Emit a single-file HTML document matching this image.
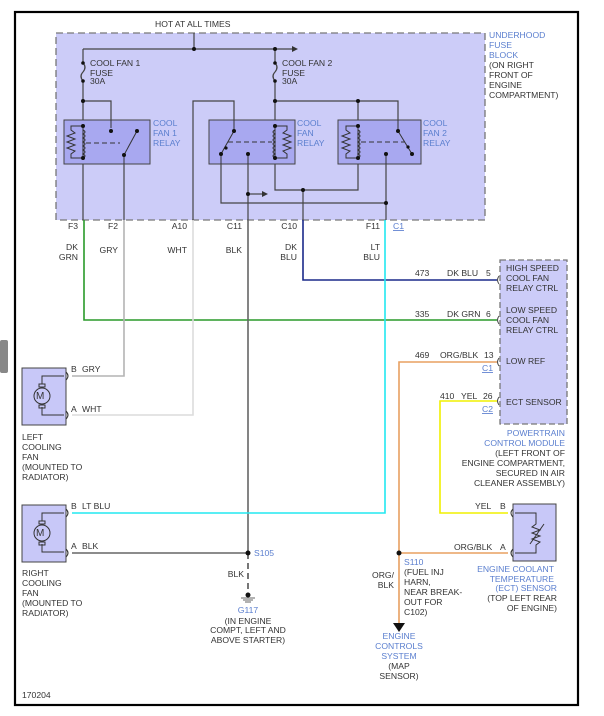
<!DOCTYPE html>
<html><head><meta charset="utf-8"><style>
html,body{margin:0;padding:0;background:#fff;}
svg{display:block;font-family:"Liberation Sans",Arial,sans-serif;font-size:8.6px;}
.d{fill:#333}
.b{fill:#5b7fcf}
</style></head><body>
<svg width="604" height="716" viewBox="0 0 604 716" xmlns="http://www.w3.org/2000/svg">
<rect x="0" y="340" width="8" height="33" rx="2" fill="#888"/>
<rect x="15" y="12" width="563" height="693" fill="none" stroke="#000" stroke-width="2.2"/>

<rect x="56" y="33" width="429" height="187" fill="#ccccf8" stroke="#777" stroke-width="1.3" stroke-dasharray="7,4"/>
<text x="155" y="27" class="d">HOT AT ALL TIMES</text>
<g class="b"><text x="489" y="38">UNDERHOOD</text><text x="489" y="48">FUSE</text><text x="489" y="58">BLOCK</text></g>
<g class="d"><text x="489" y="68">(ON RIGHT</text><text x="489" y="78">FRONT OF</text><text x="489" y="88">ENGINE</text><text x="489" y="98">COMPARTMENT)</text></g>

<g stroke="#444" stroke-width="1.2" fill="none">
<line x1="194" y1="33" x2="194" y2="49"/>
<line x1="83" y1="49" x2="292" y2="49"/>
<line x1="83" y1="49" x2="83" y2="63"/>
<path d="M83 63 q4 4 0 9 q-4 4 0 9"/>
<line x1="83" y1="81" x2="83" y2="120"/>
<line x1="275" y1="49" x2="275" y2="63"/>
<path d="M275 63 q4 4 0 9 q-4 4 0 9"/>
<line x1="275" y1="81" x2="275" y2="120"/>
<polyline points="83,101 111,101 111,120"/>
<polyline points="193,220 193,101 234,101 234,120"/>
<polyline points="275,101 398,101 398,120"/>
<line x1="358" y1="101" x2="358" y2="120"/>
<line x1="83" y1="164" x2="83" y2="220"/>
<line x1="124" y1="164" x2="124" y2="220"/>
<polyline points="221,164 221,203 386,203"/>
<line x1="248" y1="164" x2="248" y2="220"/>
<line x1="248" y1="194" x2="262" y2="194"/>
<polyline points="275,164 275,190 358,190 358,164"/>
<line x1="303" y1="190" x2="303" y2="220"/>
<line x1="386" y1="164" x2="386" y2="220"/>
</g>
<polygon points="292,46 298,49 292,52" fill="#333"/>
<polygon points="262,191 268,194 262,197" fill="#333"/>
<g fill="#111">
<circle cx="194" cy="49" r="2"/><circle cx="275" cy="49" r="2"/>
<circle cx="83" cy="63" r="1.8"/><circle cx="83" cy="81" r="1.8"/>
<circle cx="275" cy="63" r="1.8"/><circle cx="275" cy="81" r="1.8"/>
<circle cx="83" cy="101" r="2"/><circle cx="275" cy="101" r="2"/><circle cx="358" cy="101" r="2"/>
<circle cx="248" cy="194" r="2"/><circle cx="303" cy="190" r="2"/><circle cx="386" cy="203" r="2"/>
</g>
<g class="d"><text x="90" y="66">COOL FAN 1</text><text x="90" y="76">FUSE</text><text x="90" y="84">30A</text>
<text x="282" y="66">COOL FAN 2</text><text x="282" y="76">FUSE</text><text x="282" y="84">30A</text></g>

<g stroke="#444" stroke-width="1" fill="#a8a8f0">
<rect x="64" y="120" width="86" height="44"/>
<rect x="209" y="120" width="86" height="44"/>
<rect x="338" y="120" width="83" height="44"/>
</g>
<g stroke="#333" stroke-width="1" fill="none">
<line x1="83" y1="126" x2="83" y2="158"/>
<path d="M83 130 q4 2 0 4 q4 2 0 4 q4 2 0 4 q4 2 0 4 q4 2 0 4 q4 2 0 4 q4 2 0 4"/>
<polyline points="83,126 71,126 71,130 75,133 67,136 75,139 67,142 75,145 67,148 75,151 71,154 71,158 83,158"/>
<line x1="86" y1="143" x2="120" y2="143" stroke-dasharray="5,3"/>
<line x1="124" y1="155" x2="137" y2="131"/>
<line x1="124" y1="155" x2="124" y2="164"/>
<line x1="111" y1="120" x2="111" y2="128"/>
<line x1="275" y1="126" x2="275" y2="158"/>
<path d="M275 130 q-4 2 0 4 q-4 2 0 4 q-4 2 0 4 q-4 2 0 4 q-4 2 0 4 q-4 2 0 4 q-4 2 0 4"/>
<polyline points="275,126 287,126 287,130 283,133 291,136 283,139 291,142 283,145 291,148 283,151 287,154 287,158 275,158"/>
<line x1="228" y1="142" x2="272" y2="142" stroke-dasharray="5,3"/>
<line x1="221" y1="154" x2="234" y2="131"/>
<line x1="234" y1="120" x2="234" y2="131"/>
<line x1="221" y1="154" x2="221" y2="164"/>
<line x1="248" y1="154" x2="248" y2="164"/>
<line x1="358" y1="126" x2="358" y2="158"/>
<path d="M358 130 q4 2 0 4 q4 2 0 4 q4 2 0 4 q4 2 0 4 q4 2 0 4 q4 2 0 4 q4 2 0 4"/>
<polyline points="358,126 346,126 346,130 350,133 342,136 350,139 342,142 350,145 342,148 350,151 346,154 346,158 358,158"/>
<line x1="361" y1="142" x2="405" y2="142" stroke-dasharray="5,3"/>
<line x1="398" y1="120" x2="398" y2="131"/>
<line x1="398" y1="131" x2="412" y2="154"/>
<line x1="386" y1="154" x2="386" y2="164"/>
</g>
<g fill="#111">
<circle cx="83" cy="126" r="2"/><circle cx="83" cy="158" r="2"/><circle cx="111" cy="131" r="2"/><circle cx="124" cy="155" r="2"/><circle cx="137" cy="131" r="2"/>
<circle cx="275" cy="126" r="2"/><circle cx="275" cy="158" r="2"/><circle cx="234" cy="131" r="2"/><circle cx="221" cy="154" r="2"/><circle cx="248" cy="154" r="2"/><circle cx="226" cy="148" r="1.6"/>
<circle cx="358" cy="126" r="2"/><circle cx="358" cy="158" r="2"/><circle cx="398" cy="131" r="2"/><circle cx="412" cy="154" r="2"/><circle cx="386" cy="154" r="2"/><circle cx="408" cy="147" r="1.6"/>
</g>
<g class="b"><text x="153" y="126">COOL</text><text x="153" y="136">FAN 1</text><text x="153" y="146">RELAY</text>
<text x="297" y="126">COOL</text><text x="297" y="136">FAN</text><text x="297" y="146">RELAY</text>
<text x="423" y="126">COOL</text><text x="423" y="136">FAN 2</text><text x="423" y="146">RELAY</text></g>

<g class="d" text-anchor="end"><text x="78" y="229">F3</text><text x="118" y="229">F2</text><text x="187" y="229">A10</text><text x="242" y="229">C11</text><text x="297" y="229">C10</text><text x="380" y="229">F11</text>
<text x="78" y="250">DK</text><text x="78" y="260">GRN</text><text x="118" y="253">GRY</text><text x="187" y="253">WHT</text><text x="242" y="253">BLK</text>
<text x="297" y="250">DK</text><text x="297" y="260">BLU</text><text x="380" y="250">LT</text><text x="380" y="260">BLU</text></g>
<text x="393" y="229" class="b" text-decoration="underline">C1</text>

<g fill="none" stroke-width="1.6">
<polyline points="84,220 84,320 497,320" stroke="#2a9a2a"/>
<polyline points="124,220 124,376 72,376" stroke="#b4b4b4"/>
<polyline points="193,220 193,415 72,415" stroke="#dcdcdc"/>
<polyline points="248,220 248,553 72,553" stroke="#666"/>
<line x1="248" y1="553" x2="248" y2="593" stroke="#555" stroke-dasharray="6,4"/>
<polyline points="303,220 303,280 497,280" stroke="#1a2a8a"/>
<polyline points="385,220 385,513 72,513" stroke="#22e8f0"/>
<polyline points="497,362 399,362 399,623" stroke="#e8a060"/>
<line x1="399" y1="553" x2="508" y2="553" stroke="#e8a060"/>
<polyline points="497,401 440,401 440,513 508,513" stroke="#f0f000"/>
</g>
<polygon points="393,623 405,623 399,632" fill="#111"/>
<circle cx="248" cy="553" r="2.5" fill="#111"/>
<circle cx="399" cy="553" r="2.5" fill="#111"/>
<circle cx="248" cy="595" r="2.5" fill="#111"/>
<g stroke="#666" stroke-width="1"><line x1="241" y1="598" x2="255" y2="598"/><line x1="243" y1="600" x2="253" y2="600"/><line x1="245" y1="602" x2="251" y2="602"/></g>
<text x="254" y="556" class="b">S105</text>
<text x="244" y="577" class="d" text-anchor="end">BLK</text>
<text x="248" y="613" class="b" text-anchor="middle">G117</text>
<g class="d" text-anchor="middle"><text x="248" y="624">(IN ENGINE</text><text x="248" y="633">COMPT, LEFT AND</text><text x="248" y="643">ABOVE STARTER)</text></g>

<rect x="500" y="260" width="67" height="164" fill="#ccccf8" stroke="#777" stroke-width="1.3" stroke-dasharray="6,3"/>
<g class="d"><text x="506" y="271">HIGH SPEED</text><text x="506" y="281">COOL FAN</text><text x="506" y="291">RELAY CTRL</text>
<text x="506" y="313">LOW SPEED</text><text x="506" y="323">COOL FAN</text><text x="506" y="333">RELAY CTRL</text>
<text x="506" y="364">LOW REF</text><text x="506" y="405">ECT SENSOR</text>
<text x="415" y="276">473</text><text x="447" y="276">DK BLU</text><text x="486" y="276">5</text>
<text x="415" y="317">335</text><text x="447" y="317">DK GRN</text><text x="486" y="317">6</text>
<text x="415" y="358">469</text><text x="440" y="358">ORG/BLK</text><text x="484" y="358">13</text>
<text x="440" y="399">410</text><text x="461" y="399">YEL</text><text x="483" y="399">26</text></g>
<g class="b" text-decoration="underline"><text x="482" y="371">C1</text><text x="482" y="412">C2</text></g>
<g class="b" text-anchor="end"><text x="565" y="436">POWERTRAIN</text><text x="565" y="446">CONTROL MODULE</text></g>
<g class="d" text-anchor="end"><text x="565" y="456">(LEFT FRONT OF</text><text x="565" y="466">ENGINE COMPARTMENT,</text><text x="565" y="476">SECURED IN AIR</text><text x="565" y="486">CLEANER ASSEMBLY)</text></g>
<g stroke="#444" fill="none" stroke-width="1">
<path d="M499 276 q-3 4 0 8"/><path d="M499 316 q-3 4 0 8"/><path d="M499 358 q-3 4 0 8"/><path d="M499 397 q-3 4 0 8"/>
</g>

<g stroke="#444" stroke-width="1" fill="#c8c8f8">
<rect x="22" y="368" width="44" height="57"/>
<rect x="22" y="505" width="44" height="57"/>
<rect x="513" y="504" width="43" height="57"/>
</g>
<g stroke="#333" stroke-width="1" fill="none">
<polyline points="64,376 42,376 42,384"/><polyline points="64,415 42,415 42,407"/>
<circle cx="42" cy="396" r="8"/><rect x="39" y="384" width="6" height="3"/><rect x="39" y="405" width="6" height="3"/>
<path d="M66 372 q4 4 0 8 M66 411 q4 4 0 8"/>
<polyline points="64,513 42,513 42,521"/><polyline points="64,552 42,552 42,544"/>
<circle cx="42" cy="533" r="8"/><rect x="39" y="521" width="6" height="3"/><rect x="39" y="542" width="6" height="3"/>
<path d="M66 509 q4 4 0 8 M66 549 q4 4 0 8"/>
<polyline points="515,513 536,513 536,524 532,527 540,530 532,533 540,536 532,539 540,542 536,545 536,553 515,553"/>
<line x1="530" y1="544" x2="544" y2="524"/>
<path d="M513 509 q-4 4 0 8 M513 549 q-4 4 0 8"/>
</g>
<text x="36" y="399" font-size="10" class="d">M</text>
<text x="36" y="536" font-size="10" class="d">M</text>
<g class="d"><text x="71" y="372">B</text><text x="82" y="372">GRY</text><text x="71" y="412">A</text><text x="82" y="412">WHT</text>
<text x="71" y="509">B</text><text x="82" y="509">LT BLU</text><text x="71" y="549">A</text><text x="82" y="549">BLK</text>
<text x="22" y="440">LEFT</text><text x="22" y="450">COOLING</text><text x="22" y="460">FAN</text><text x="22" y="470">(MOUNTED TO</text><text x="22" y="480">RADIATOR)</text>
<text x="22" y="576">RIGHT</text><text x="22" y="586">COOLING</text><text x="22" y="596">FAN</text><text x="22" y="606">(MOUNTED TO</text><text x="22" y="616">RADIATOR)</text>
<text x="22" y="698">170204</text>
<text x="475" y="509">YEL</text><text x="500" y="509">B</text><text x="454" y="550">ORG/BLK</text><text x="500" y="550">A</text>
<text x="404" y="575">(FUEL INJ</text><text x="404" y="585">HARN,</text><text x="404" y="595">NEAR BREAK-</text><text x="404" y="605">OUT FOR</text><text x="404" y="615">C102)</text>
</g>
<text x="404" y="565" class="b">S110</text>
<g class="d" text-anchor="end"><text x="394" y="578">ORG/</text><text x="394" y="588">BLK</text>
<text x="557" y="601">(TOP LEFT REAR</text><text x="557" y="611">OF ENGINE)</text></g>
<g class="b" text-anchor="end"><text x="554" y="572">ENGINE COOLANT</text><text x="554" y="582">TEMPERATURE</text><text x="557" y="591">(ECT) SENSOR</text></g>
<g class="b" text-anchor="middle"><text x="399" y="639">ENGINE</text><text x="399" y="649">CONTROLS</text><text x="399" y="659">SYSTEM</text></g>
<g class="d" text-anchor="middle"><text x="399" y="669">(MAP</text><text x="399" y="679">SENSOR)</text></g>
</svg>
</body></html>
